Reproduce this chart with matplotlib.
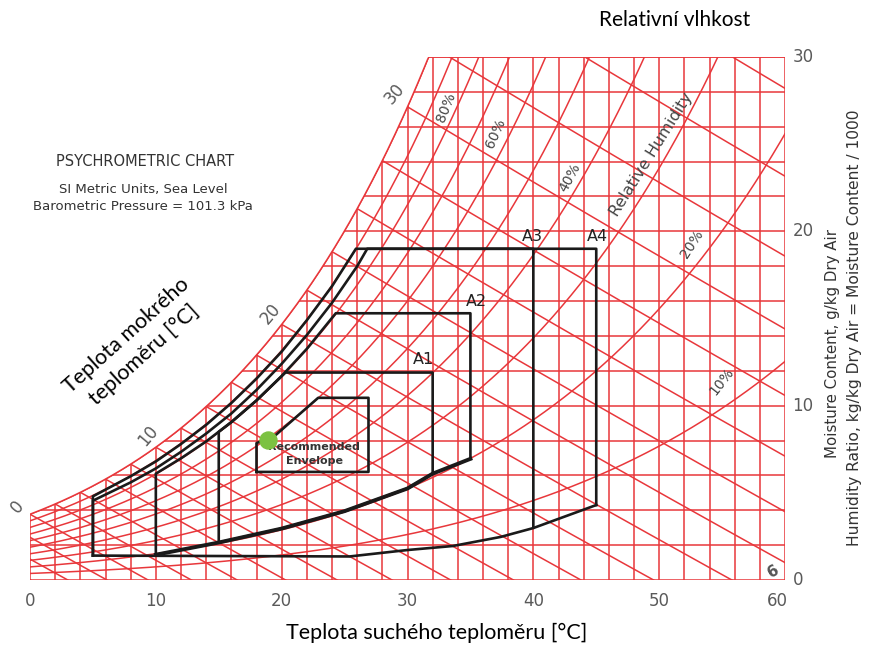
import numpy as np
import matplotlib.pyplot as plt
from matplotlib.patches import Polygon
from matplotlib import font_manager

# --- chart data -------------------------------------------------------------
db_grid = list(range(0, 61, 2))          # dry bulb grid lines [°C]
w_grid = list(range(0, 31, 2))           # moisture grid lines [g/kg]
rh_levels = [10, 20, 30, 40, 50, 60, 70, 80, 90, 100]
wb_levels = list(range(-10, 38, 2))      # wet bulb lines [°C]

x_ticks = [0, 10, 20, 30, 40, 50, 60]
y_ticks = [0, 10, 20, 30]
wb_labels = [0, 10, 20, 30]
rh_labels = ["80%", "60%", "40%", "20%", "10%"]
rh_label_pos = [(33.1, 27.1), (37.0, 25.6), (42.9, 23.1), (52.6, 19.3), (55.0, 11.4)]
rh_label_rot = [68, 66, 62, 57, 52]

# ASHRAE envelopes (dry bulb °C, moisture g/kg)
a1_t = [15, 15, 16, 18, 20.3, 32, 32, 30, 25, 20, 15]
a1_w = [2.15, 8.5, 9.05, 10.3, 11.9, 11.9, 6.1, 5.25, 3.95, 2.95, 2.15]
a2_t = [10, 10, 12, 14, 16, 18, 20, 22, 24.3, 35, 35]
a2_w = [1.45, 6.1, 6.98, 7.95, 9.06, 10.3, 11.7, 13.26, 15.3, 15.3, 6.95]
a3_t = [5, 5, 8, 10, 12, 14, 16, 18, 20, 22, 24, 26, 26.8, 40, 40]
a3_w = [1.4, 4.55, 5.6, 6.4, 7.35, 8.4, 9.55, 10.9, 12.4, 14.05, 15.9, 18.0, 19.0, 19.0, 3.0]
a4_t = [5, 5, 8, 10, 12, 14, 16, 18, 20, 22, 24, 25.9, 45, 45]
a4_w = [1.4, 4.8, 5.95, 6.8, 7.8, 8.9, 10.15, 11.55, 13.1, 14.9, 16.85, 19.0, 19.0, 4.3]
low_t = [5, 25.4, 30, 33.6, 37.4, 40, 45]          # -12 °C dew point / 8 % RH
low_w = [1.4, 1.35, 1.72, 1.95, 2.47, 2.98, 4.3]
rh20_t = [10, 15, 20, 25, 30, 32, 35]                 # 20 % RH edge of A1/A2
rh20_w = [1.45, 2.15, 2.95, 3.95, 5.25, 6.1, 6.95]
rec_t = [18.0, 18.0, 19.5, 22.9, 26.9, 26.9, 18.0]
rec_w = [6.2, 7.85, 8.3, 10.45, 10.45, 6.2, 6.2]
dot_t, dot_w = 18.9, 8.05

env_labels = ["A1", "A2", "A3", "A4"]
env_label_pos = [(31.3, 12.2), (35.5, 15.55), (39.9, 19.3), (45.1, 19.3)]

# --- psychrometrics (sea level) ---------------------------------------------
P_ATM = 101.325


def p_sat(t):
    return 0.61094 * np.exp(17.625 * t / (t + 243.04))


def w_rh(t, rh):
    pw = rh / 100.0 * p_sat(t)
    return 622.0 * pw / (P_ATM - pw)


def w_wb(t, twb):
    ws = w_rh(twb, 100) / 1000.0
    w = ((2501 - 2.326 * twb) * ws - 1.006 * (t - twb)) / (2501 + 1.86 * t - 4.186 * twb)
    return w * 1000.0


names = {f.name for f in font_manager.fontManager.ttflist}
narrow = "Liberation Sans Narrow" if "Liberation Sans Narrow" in names else "DejaVu Sans"
cz_font = "Lato"

red = "#e8373b"
grey = "#5a5a5a"

fig = plt.figure(figsize=(8.69, 6.47), dpi=100)
ax = fig.add_axes([30 / 869, 67 / 647, 755 / 869, 523 / 647])
ax.set_xlim(0, 60)
ax.set_ylim(0, 30)
ax.axis("off")

# region under the saturation curve
tt = np.linspace(0, 60, 601)
sat = np.minimum(w_rh(tt, 100), 30)
region = Polygon([(0, 0)] + list(zip(tt, sat)) + [(60, 0)], closed=True,
                 transform=ax.transData, facecolor="none", edgecolor="none")
ax.add_patch(region)

lines = []
for t in db_grid:
    lines += ax.plot([t, t], [0, 30], color=red, lw=1.1)
for w in w_grid:
    lines += ax.plot([0, 60], [w, w], color=red, lw=1.1)
for rh in rh_levels:
    lines += ax.plot(tt, w_rh(tt, rh), color=red, lw=1.1)
for twb in wb_levels:
    t = np.linspace(max(twb, 0), 60, 200)
    lines += ax.plot(t, w_wb(t, twb), color=red, lw=1.1)
for ln in lines:
    ln.set_clip_path(region)
ax.plot(tt, sat, color=red, lw=1.1)

# envelopes
for t, w in [(a1_t, a1_w), (a2_t, a2_w), (a3_t, a3_w), (a4_t, a4_w)]:
    ax.plot(t, w, color="#1a1a1a", lw=1.9, clip_on=False)
ax.plot(low_t, low_w, color="#1a1a1a", lw=1.9)
ax.plot(rh20_t, rh20_w, color="#1a1a1a", lw=2.8)
ax.plot(rec_t, rec_w, color="#1a1a1a", lw=1.9)
ax.scatter([dot_t], [dot_w], s=150, color="#7cc242", zorder=5)
ax.text(22.6, 7.65, "Recommended", ha="center", va="center", fontsize=8,
        fontweight="bold", color="#333333")
ax.text(22.6, 6.8, "Envelope", ha="center", va="center", fontsize=8,
        fontweight="bold", color="#333333")
for lab, (x, y) in zip(env_labels, env_label_pos):
    ax.text(x, y, lab, ha="center", va="bottom", fontsize=11.5, color="#222222")

# chart texts
for v in x_ticks:
    x = v - 0.6 if v == 60 else v
    ax.text(x, -1.2, str(v), ha="center", va="center", fontsize=12,
            family=narrow, color=grey, clip_on=False)
for v in y_ticks:
    ax.text(60.6, v, str(v), ha="left", va="center", fontsize=12,
            family=narrow, color=grey, clip_on=False)
wb_pos = [(-1.0, 4.2), (9.4, 8.3), (19.1, 15.3), (29.0, 27.9)]
for v, (x, y) in zip(wb_labels, wb_pos):
    ax.text(x, y, str(v), ha="center", va="center", fontsize=12, rotation=50,
            family=narrow, color=grey, clip_on=False)
for lab, (x, y), r in zip(rh_labels, rh_label_pos, rh_label_rot):
    ax.text(x, y, lab, ha="center", va="center", fontsize=10, rotation=r,
            family=narrow, color="#444444")
ax.text(49.4, 24.4, "Relative Humidity", ha="center", va="center", fontsize=11.5,
        rotation=58, family=narrow, color="#444444")
ax.text(59.1, 0.5, "6", ha="center", va="center", fontsize=11, rotation=30,
        fontweight="bold", family=narrow, color="#555555")

fig.text(145 / 869, 1 - 162 / 647, "PSYCHROMETRIC CHART", ha="center", va="center",
         fontsize=10.5, family=narrow, color="#333333")
fig.text(143 / 869, 1 - 189 / 647, "SI Metric Units, Sea Level", ha="center",
         va="center", fontsize=9.5, family=narrow, color="#333333")
fig.text(143 / 869, 1 - 206 / 647, "Barometric Pressure = 101.3 kPa", ha="center",
         va="center", fontsize=9.5, family=narrow, color="#333333")
fig.text(833 / 869, 1 - 343 / 647, "Moisture Content, g/kg Dry Air", ha="center",
         va="center", rotation=90, fontsize=10.8, family=narrow, color="#333333")
fig.text(854 / 869, 1 - 328 / 647,
         "Humidity Ratio, kg/kg Dry Air = Moisture Content / 1000", ha="center",
         va="center", rotation=90, fontsize=11.2, family=narrow, color="#333333")

# Czech labels
fig.text(675 / 869, 1 - 20 / 647, "Relativní vlhkost", ha="center", va="center",
         fontsize=15, family=cz_font, color="black")
fig.text(437 / 869, 1 - 633 / 647, "Teplota suchého teploměru [°C]", ha="center",
         va="center", fontsize=15.5, family=cz_font, color="black")
fig.text(135 / 869, 1 - 345 / 647, "Teplota mokrého\nteploměru [°C]", ha="center",
         va="center", rotation=42, rotation_mode="anchor", linespacing=1.4,
         fontsize=15.5, family=cz_font, color="black")

fig.savefig("out.png", dpi=100)
